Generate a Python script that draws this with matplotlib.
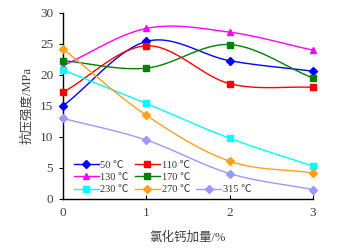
import numpy as np
import matplotlib
matplotlib.use("Agg")
import matplotlib.pyplot as plt
from matplotlib.lines import Line2D

plt.rcParams['font.family'] = ['Liberation Serif', 'Noto Sans CJK SC', 'DejaVu Sans']

x = [0, 1, 2, 3]
labels = ['50 ℃', '110 ℃', '130 ℃', '170 ℃', '230 ℃', '270 ℃', '315 ℃']
s50 = [15.0, 25.4, 22.3, 20.6]
s110 = [17.2, 24.7, 18.6, 18.0]
s130 = [21.5, 27.5, 26.9, 24.0]
s170 = [22.3, 21.1, 24.9, 19.5]
s230 = [20.8, 15.4, 9.8, 5.3]
s270 = [24.2, 13.5, 6.1, 4.2]
s315 = [13.0, 9.5, 4.1, 1.5]
series = [s50, s110, s130, s170, s230, s270, s315]
colors = ['#0000FF', '#FF0000', '#FF00FF', '#008000', '#00FFFF', '#FF9F1C', '#9999FF']
markers = ['D', 's', '^', 's', 's', 'D', 'D']
msizes = [4, 5, 5, 5, 5, 4, 4]


def smooth(xs, ys, n=30):
    xs = np.asarray(xs, float)
    ys = np.asarray(ys, float)
    px = np.concatenate([[2 * xs[0] - xs[1]], xs, [2 * xs[-1] - xs[-2]]])
    py = np.concatenate([[2 * ys[0] - ys[1]], ys, [2 * ys[-1] - ys[-2]]])
    ox, oy = [], []
    for i in range(1, len(px) - 2):
        t = np.linspace(0, 1, n)
        for arr, out in ((px, ox), (py, oy)):
            p0, p1, p2, p3 = arr[i - 1], arr[i], arr[i + 1], arr[i + 2]
            m1 = (p2 - p0) / 2
            m2 = (p3 - p1) / 2
            h00 = 2 * t**3 - 3 * t**2 + 1
            h10 = t**3 - 2 * t**2 + t
            h01 = -2 * t**3 + 3 * t**2
            h11 = t**3 - t**2
            out.extend(h00 * p1 + h10 * m1 + h01 * p2 + h11 * m2)
    return np.array(ox), np.array(oy)


fig = plt.figure(figsize=(3.46, 2.49), dpi=100)
ax = fig.add_axes([0.182, 0.201, 0.7225, 0.747])

handles = []
for ys, c, m, ms, lab in zip(series, colors, markers, msizes, labels):
    sx, sy = smooth(x, ys)
    ax.plot(sx, sy, color=c, lw=1.0, clip_on=False, zorder=3)
    ax.plot(x, ys, linestyle='none', marker=m, color=c, markersize=ms,
            clip_on=False, zorder=4)
    handles.append(Line2D([], [], color=c, lw=1.0, marker=m, markersize=ms, label=lab))

blank = Line2D([], [], color='none', label=' ')
order = [handles[0], handles[2], handles[4],
         handles[1], handles[3], handles[5],
         blank, blank, handles[6]]
leg = ax.legend(handles=order, ncol=3, loc='lower left', bbox_to_anchor=(0.01, -0.02),
                frameon=False, fontsize=7.5, handlelength=2.4, handletextpad=0.15,
                columnspacing=0.6, labelspacing=0.3, borderaxespad=0.4)
for t in leg.get_texts():
    t.set_color('#333333')

ax.set_xlim(0, 3)
ax.set_ylim(0, 30)
ax.set_xticks([0, 1, 2, 3])
ax.set_yticks([0, 5, 10, 15, 20, 25, 30])
for sp in ['top', 'right']:
    ax.spines[sp].set_visible(False)
for sp in ['left', 'bottom']:
    ax.spines[sp].set_linewidth(1.0)
    ax.spines[sp].set_color('black')
ax.tick_params(axis='y', direction='out', length=3, labelsize=9.5, colors='black', labelcolor='#404040', pad=4)
ax.tick_params(axis='x', direction='in', length=3, labelsize=9.5, colors='black', labelcolor='#404040', pad=6)
ax.set_xlabel('氯化钙加量/%', fontsize=9, color='#404040', labelpad=9)
ax.set_ylabel('抗压强度/MPa', fontsize=9, color='#404040', labelpad=5)

fig.savefig('out.png', dpi=100)
